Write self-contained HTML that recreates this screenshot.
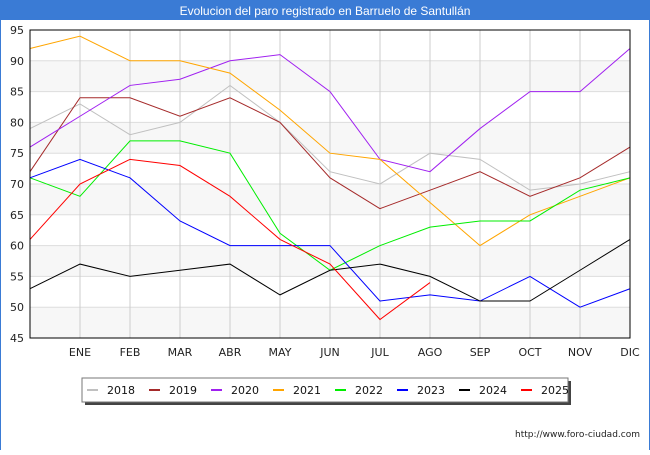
<!DOCTYPE html>
<html><head><meta charset="utf-8"><style>
body{margin:0;width:650px;height:450px;background:#fff;font-family:"Liberation Sans","DejaVu Sans",sans-serif;overflow:hidden}
</style></head><body>
<svg width="650" height="450">
<rect x="0" y="0" width="650" height="20" fill="#3a7bd5"/>
<text x="325" y="15" text-anchor="middle" font-size="12" fill="#fff" font-family="Liberation Sans, DejaVu Sans, sans-serif">Evolucion del paro registrado en Barruelo de Santullán</text>
<rect x="0" y="20" width="1" height="430" fill="#3a7bd5"/><rect x="649" y="20" width="1" height="430" fill="#3a7bd5"/>
<g id="grid"></g><g id="lines"></g>
<rect x="30" y="30" width="600" height="308" fill="none" stroke="#000"/>
<g id="axes" font-size="11" font-family="DejaVu Sans, sans-serif" fill="#222"></g>
<rect x="85" y="381" width="486" height="24" fill="#444"/>
<rect x="82" y="378" width="486" height="24" fill="#fff" stroke="#777"/>
<g id="legend" font-size="11" font-family="DejaVu Sans, sans-serif"></g>
<text x="640" y="437" text-anchor="end" font-size="9" font-family="DejaVu Sans, sans-serif" fill="#222">http://www.foro-ciudad.com</text>
</svg>
<script>
const months=["","ENE","FEB","MAR","ABR","MAY","JUN","JUL","AGO","SEP","OCT","NOV","DIC"];
const yTicks=[45,50,55,60,65,70,75,80,85,90,95];
const years=["2018","2019","2020","2021","2022","2023","2024","2025"];
const colors=["#c0c0c0","#a52a2a","#a020f0","#ffa500","#00ee00","#0000ff","#000000","#ff0000"];
const s2018=[79,83,78,80,86,80,72,70,75,74,69,70,72];
const s2019=[72,84,84,81,84,80,71,66,69,72,68,71,76];
const s2020=[76,81,86,87,90,91,85,74,72,79,85,85,92];
const s2021=[92,94,90,90,88,82,75,74,67,60,65,68,71];
const s2022=[71,68,77,77,75,62,56,60,63,64,64,69,71];
const s2023=[71,74,71,64,60,60,60,51,52,51,55,50,53];
const s2024=[53,57,55,56,57,52,56,57,55,51,51,56,61];
const s2025=[61,70,74,73,68,61,57,48,54];
const series=[s2018,s2019,s2020,s2021,s2022,s2023,s2024,s2025];
const NS="http://www.w3.org/2000/svg";
const X=i=>30+i*50, Y=v=>338-(v-45)*308/50;
function mk(t,a,p){const e=document.createElementNS(NS,t);for(const k in a)e.setAttribute(k,a[k]);p.appendChild(e);return e;}
const grid=document.getElementById('grid'),ax=document.getElementById('axes');
for(let i=0;i<yTicks.length-1;i++){if(i%2==0){const r=mk('rect',{x:30,y:Y(yTicks[i+1]),width:600,height:Y(yTicks[i])-Y(yTicks[i+1]),fill:'#f7f7f7'},grid);}}
yTicks.forEach(v=>{const l=mk('line',{x1:30,x2:630,y1:Y(v),y2:Y(v),stroke:'#ddd'},grid);
const t=mk('text',{x:24,y:Y(v)+4,'text-anchor':'end'},ax);t.textContent=v;});
months.forEach((m,i)=>{if(i==0)return;const l=mk('line',{x1:X(i),x2:X(i),y1:30,y2:338,stroke:'#ccc'},grid);
const t=mk('text',{x:X(i),y:356,'text-anchor':'middle'},ax);t.textContent=m;});
const lg=document.getElementById('lines'),leg=document.getElementById('legend');
series.forEach((s,k)=>{const p=mk('polyline',{points:s.map((v,i)=>X(i)+','+Y(v)).join(' '),fill:'none',stroke:colors[k],'stroke-width':1},lg);

const lx=87+k*62;const m=mk('rect',{x:lx,y:389,width:11,height:2,fill:colors[k]},leg);
const t=mk('text',{x:lx+20,y:394,fill:'#111'},leg);t.textContent=years[k];});
</script>
</body></html>
